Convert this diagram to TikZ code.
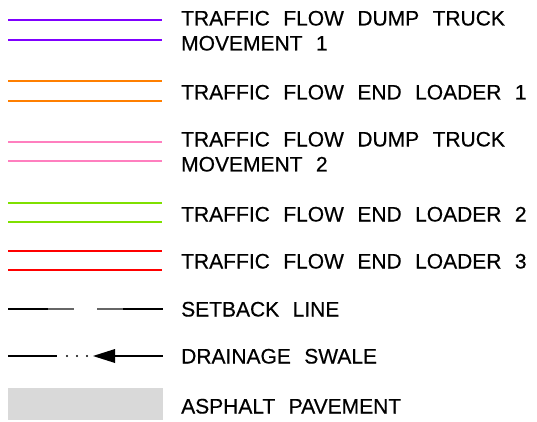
\documentclass[tikz,border=0pt]{standalone}
\usepackage{fontspec}
\setmainfont{Liberation Sans}[WordSpace=2.3, FakeBold=0.4]

\definecolor{dumpone}{HTML}{7F00FF}
\definecolor{loaderone}{HTML}{FF7F00}
\definecolor{dumptwo}{HTML}{FF7FBF}
\definecolor{loadertwo}{HTML}{7FE000}
\definecolor{loaderthree}{HTML}{FF0000}
\definecolor{pavement}{HTML}{D9D9D9}

\begin{document}
\begin{tikzpicture}[x=1pt,y=-1pt,
  flow/.style={line width=1.3pt},
  legtext/.style={anchor=west, inner sep=0pt, text height=15pt, text depth=0pt,
    font=\fontsize{21}{25}\selectfont}]
  \useasboundingbox (0,0) rectangle (537,422);

  % Traffic flow lines (pairs)
  \foreach \c/\ya/\yb in {dumpone/20/40, loaderone/81/101, dumptwo/142/161,
      loadertwo/203/222, loaderthree/251/270}
    \draw[flow,\c] (8,\ya) -- (162,\ya) (8,\yb) -- (162,\yb);

  % Setback line
  \draw[flow] (8,309) -- (48,309) (123,309) -- (163,309);
  \draw[flow, black!60] (48,309) -- (74,309) (97,309) -- (123,309);

  % Drainage swale
  \draw[flow] (8,356) -- (57,356);
  \foreach \x in {67,77,87} \fill (\x,356) circle (1.2pt);
  \fill (93,356) -- (115,349) -- (115,363) -- cycle;
  \draw[flow] (115,356) -- (163,356);

  % Asphalt pavement
  \fill[pavement] (8,388) rectangle (163,420);

  % Labels
  \node[legtext] (dumpa)  at (181,18)  {TRAFFIC FLOW DUMP TRUCK};
  \node[legtext] (dumpb)  at (181,43)  {MOVEMENT 1};
  \node[legtext] (loada)  at (181,92)  {TRAFFIC FLOW END LOADER 1};
  \node[legtext] (dumpc)  at (181,139) {TRAFFIC FLOW DUMP TRUCK};
  \node[legtext] (dumpd)  at (181,164) {MOVEMENT 2};
  \node[legtext] (loadb)  at (181,214) {TRAFFIC FLOW END LOADER 2};
  \node[legtext] (loadc)  at (181,261) {TRAFFIC FLOW END LOADER 3};
  \node[legtext] (setbk)  at (181,309) {SETBACK LINE};
  \node[legtext] (swale)  at (181,356) {DRAINAGE SWALE};
  \node[legtext] (asphlt) at (181,406) {ASPHALT PAVEMENT};
\end{tikzpicture}
\end{document}
